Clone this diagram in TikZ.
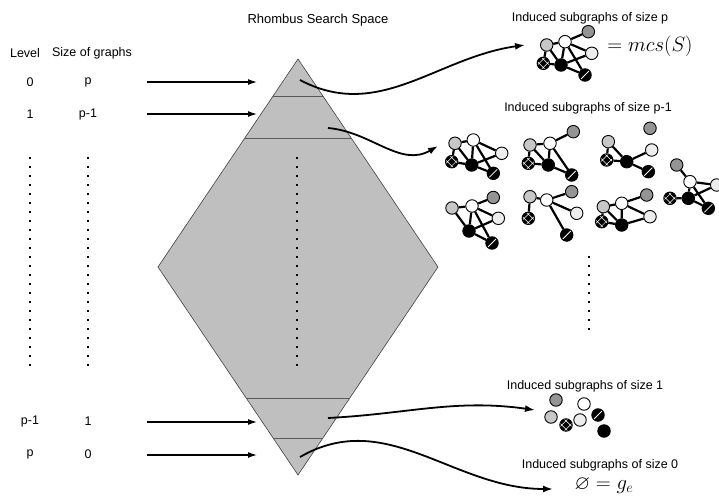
\documentclass[tikz,border=0pt]{standalone}
\usepackage{fontspec}
\usepackage{amssymb}
\setmainfont{Liberation Sans}
\usetikzlibrary{arrows.meta,calc}

\begin{document}
\begin{tikzpicture}[x=1pt, y=-1pt, font=\fontsize{12.5}{14}\selectfont]
    \tikzset{gnode/.style={circle,draw=black,line width=0.9pt,inner sep=0pt,minimum size=12.5pt}}
    \tikzset{vlight/.style={gnode,fill=black!22},
             vwhite/.style={gnode,fill=white},
             vgray/.style={gnode,fill=black!42},
             vpale/.style={gnode,fill=black!7},
             vblack/.style={gnode,fill=black},
             vcross/.style={gnode,fill=black,path picture={
                 \draw[white,line width=0.5pt]
                   (path picture bounding box.center) +(-6,-1.8) -- +(1.8,6)
                   (path picture bounding box.center) +(-1.8,-6) -- +(6,1.8)
                   (path picture bounding box.center) +(-6,1.8) -- +(1.8,-6)
                   (path picture bounding box.center) +(-1.8,6) -- +(6,-1.8);}},
             vstripe/.style={gnode,fill=black,path picture={
                 \draw[white,line width=0.8pt]
                   (path picture bounding box.center) +(-4.5,4.5) -- +(4.5,-4.5);}},
             glink/.style={line width=2.2pt},
             flow/.style={-{Latex[length=9pt,width=6pt]},line width=1.3pt},
             bendflow/.style={-{Latex[length=10pt,width=7pt]},line width=1.8pt},
             rhomb/.style={draw=black!75,line width=0.6pt,fill=black!25},
             band/.style={draw=black!65,line width=0.9pt},
             dots/.style={line width=1.6pt,dash pattern=on 1.6pt off 7.4pt},
             big/.style={font=\fontsize{20}{22}\selectfont}}

    \useasboundingbox (0,0) rectangle (719,497);

    % Column headers and levels
    \node (title) at (318,20) {\fontsize{13}{15}\selectfont Rhombus Search Space};
    \node (hlev) at (25,53) {Level};
    \node (hsize) at (92,53) {Size of graphs};
    \node (lev0) at (30,82) {0};
    \node (siz0) at (88,82) {p};
    \node (lev1) at (30,114) {1};
    \node (siz1) at (88,114) {p-1};
    \node (levq) at (30,421) {p-1};
    \node (sizq) at (88,421) {1};
    \node (levp) at (30,454) {p};
    \node (sizp) at (88,454) {0};

    % Dotted columns
    \coordinate (d1a) at (30,157);
    \coordinate (d1b) at (30,366);
    \coordinate (d2a) at (88,157);
    \coordinate (d2b) at (88,366);
    \draw[dots] (d1a) -- (d1b);
    \draw[dots] (d2a) -- (d2b);

    % Rhombus
    \coordinate (top) at (298,59);
    \coordinate (left) at (158,267);
    \coordinate (right) at (438,267);
    \coordinate (bot) at (298,475);
    \draw[rhomb] (top) -- (right) -- (bot) -- (left) -- cycle;
    \draw[band] ($(top)!0.18!(left)$) -- ($(top)!0.18!(right)$);
    \draw[band] ($(top)!0.38!(left)$) -- ($(top)!0.38!(right)$);
    \draw[band] ($(bot)!0.37!(left)$) -- ($(bot)!0.37!(right)$);
    \draw[band] ($(bot)!0.175!(left)$) -- ($(bot)!0.175!(right)$);
    \coordinate (d3a) at (297,157);
    \coordinate (d3b) at (297,366);
    \draw[dots] (d3a) -- (d3b);

    % Level arrows
    \coordinate (l0) at (147,82);  \coordinate (r0) at (257,82);
    \coordinate (l1) at (147,114); \coordinate (r1) at (257,114);
    \coordinate (lq) at (147,422); \coordinate (rq) at (257,422);
    \coordinate (lp) at (147,455); \coordinate (rp) at (257,455);
    \draw[flow] (l0) -- (r0);
    \draw[flow] (l1) -- (r1);
    \draw[flow] (lq) -- (rq);
    \draw[flow] (lp) -- (rp);

    % Size p
    \node (capp) at (590,18) {Induced subgraphs of size p};
    \node[vlight] (ta) at (546.7,45) {};
    \node[vwhite] (tb) at (565,41.7) {};
    \node[vgray] (tc) at (588.3,31.7) {};
    \node[vpale] (td) at (591.7,53.3) {};
    \node[vcross] (te) at (543.3,63.3) {};
    \node[vblack] (tf) at (561,65) {};
    \node[vstripe] (tg) at (585,75) {};
    \draw[glink] (ta) -- (tb) (tb) -- (tc) (tb) -- (td) (tb) -- (tf) (tb) -- (tg)
                 (ta) -- (te) (ta) -- (tf) (te) -- (tf) (tf) -- (tg) (tf) -- (td);
    \node[big] (mcs) at (650,46) {$=mcs(S)$};

    % Size p-1
    \node (capq) at (588,108) {Induced subgraphs of size p-1};
    % graph without c
    \node[vlight] (a1) at (455,143.3) {};
    \node[vwhite] (b1) at (473.3,140) {};
    \node[vpale] (d1) at (501.7,153.3) {};
    \node[vcross] (e1) at (451.7,161.7) {};
    \node[vblack] (f1) at (471.7,165) {};
    \node[vstripe] (g1) at (493.3,173.3) {};
    \draw[glink] (a1) -- (b1) (b1) -- (d1) (b1) -- (f1) (b1) -- (g1) (a1) -- (e1)
                 (a1) -- (f1) (e1) -- (f1) (f1) -- (g1) (f1) -- (d1);
    % graph without d
    \node[vlight] (a2) at (530,145) {};
    \node[vwhite] (b2) at (550,143.3) {};
    \node[vgray] (c2) at (573.3,131.7) {};
    \node[vcross] (e2) at (528.3,163.3) {};
    \node[vblack] (f2) at (548.3,165) {};
    \node[vstripe] (g2) at (571.7,175) {};
    \draw[glink] (a2) -- (b2) (b2) -- (c2) (b2) -- (f2) (b2) -- (g2)
                 (a2) -- (e2) (a2) -- (f2) (e2) -- (f2) (f2) -- (g2);
    % graph without b
    \node[vgray] (c3) at (650,128.3) {};
    \node[vlight] (a3) at (608.3,141.7) {};
    \node[vpale] (d3) at (651.7,150) {};
    \node[vcross] (e3) at (606.7,160) {};
    \node[vblack] (f3) at (626.7,161.7) {};
    \node[vstripe] (g3) at (648.3,171.7) {};
    \draw[glink] (a3) -- (e3) (a3) -- (f3) (e3) -- (f3) (f3) -- (d3) (f3) -- (g3);
    % graph without a
    \node[vgray] (c4) at (676.7,165) {};
    \node[vwhite] (b4) at (690,181.7) {};
    \node[vpale] (d4) at (716.7,185) {};
    \node[vcross] (e4) at (670,198.3) {};
    \node[vblack] (f4) at (688.3,198.3) {};
    \node[vstripe] (g4) at (708.3,208.3) {};
    \draw[glink] (b4) -- (c4) (b4) -- (d4) (b4) -- (f4) (b4) -- (g4)
                 (e4) -- (f4) (f4) -- (g4) (f4) -- (d4);
    % graph without e
    \node[vlight] (a5) at (452,208) {};
    \node[vwhite] (b5) at (472,206) {};
    \node[vgray] (c5) at (493.3,197.5) {};
    \node[vpale] (d5) at (498.3,218.3) {};
    \node[vblack] (f5) at (469,231) {};
    \node[vstripe] (g5) at (492,243) {};
    \draw[glink] (a5) -- (b5) (b5) -- (c5) (b5) -- (d5) (b5) -- (f5) (b5) -- (g5)
                 (a5) -- (f5) (f5) -- (g5) (f5) -- (d5);
    % graph without f
    \node[vlight] (a6) at (530,196.7) {};
    \node[vwhite] (b6) at (546.7,200) {};
    \node[vgray] (c6) at (571.7,191.7) {};
    \node[vpale] (d6) at (576.7,213.3) {};
    \node[vcross] (e6) at (528.3,218.3) {};
    \node[vstripe] (g6) at (566.7,235) {};
    \draw[glink] (a6) -- (b6) (b6) -- (c6) (b6) -- (d6) (b6) -- (g6) (a6) -- (e6);
    % graph without g
    \node[vlight] (a7) at (603.3,206.7) {};
    \node[vwhite] (b7) at (621.7,203.3) {};
    \node[vgray] (c7) at (646.7,195) {};
    \node[vpale] (d7) at (650,216.7) {};
    \node[vcross] (e7) at (601.7,221.7) {};
    \node[vblack] (f7) at (621.7,225) {};
    \draw[glink] (a7) -- (b7) (b7) -- (c7) (b7) -- (d7) (b7) -- (f7)
                 (a7) -- (e7) (a7) -- (f7) (e7) -- (f7) (f7) -- (d7);
    \coordinate (d4a) at (589,256);
    \coordinate (d4b) at (589,330);
    \draw[dots] (d4a) -- (d4b);

    % Size 1
    \node (cap1) at (585,386) {Induced subgraphs of size 1};
    \node[vgray] (s3) at (556,400) {};
    \node[vwhite] (s2) at (584,404) {};
    \node[vlight] (s1) at (551,417) {};
    \node[vpale] (s4) at (580,420) {};
    \node[vstripe] (s7) at (598,415) {};
    \node[vcross] (s5) at (566,425) {};
    \node[vblack] (s6) at (604,431) {};

    % Size 0
    \node (cap0) at (600,465) {Induced subgraphs of size 0};
    \node[big] (empty) at (604,486) {$\varnothing=g_e$};

    % Curved arrows
    \coordinate (s1a) at (300,80);   \coordinate (t1a) at (525,45);
    \coordinate (s2a) at (328,128);  \coordinate (t2a) at (438,146);
    \coordinate (s3a) at (328,418);  \coordinate (t3a) at (535,410);
    \coordinate (s4a) at (300,457);  \coordinate (t4a) at (553,489);
    \draw[bendflow] (s1a) to[out=-28,in=188] (t1a);
    \draw[bendflow] (s2a) to[out=-5,in=210] (t2a);
    \draw[bendflow] (s3a) to[out=3,in=172] (t3a);
    \draw[bendflow] (s4a) to[out=30,in=180] (t4a);
\end{tikzpicture}
\end{document}
